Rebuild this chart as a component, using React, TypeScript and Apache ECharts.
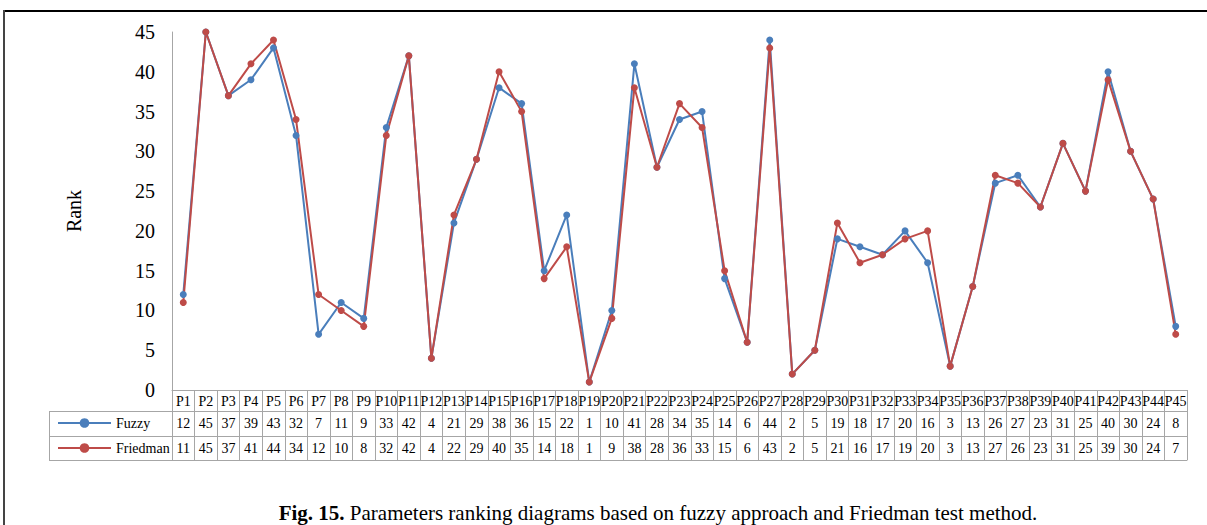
import React, { useEffect, useRef } from "react";
import * as echarts from "echarts";

const categories = Array.from({ length: 45 }, (_, i) => `P${i + 1}`);
const fuzzy = [12, 45, 37, 39, 43, 32, 7, 11, 9, 33, 42, 4, 21, 29, 38, 36, 15, 22, 1, 10, 41, 28, 34, 35, 14, 6, 44, 2, 5, 19, 18, 17, 20, 16, 3, 13, 26, 27, 23, 31, 25, 40, 30, 24, 8];
const friedman = [11, 45, 37, 41, 44, 34, 12, 10, 8, 32, 42, 4, 22, 29, 40, 35, 14, 18, 1, 9, 38, 28, 36, 33, 15, 6, 43, 2, 5, 21, 16, 17, 19, 20, 3, 13, 27, 26, 23, 31, 25, 39, 30, 24, 7];
const yTicks = { min: 0, max: 45, interval: 5 };

const FONT = "'Liberation Serif', 'Times New Roman', serif";
const GRID = "#A6A6A6";
const BLUE = "#4A7EBB";
const RED = "#BE4B48";

export default function App() {
  const ref = useRef<HTMLDivElement>(null);
  useEffect(() => {
    const chart = echarts.init(ref.current!, null, { renderer: "svg" });
    chart.setOption({
      animation: false,
      grid: { left: 172, right: 20, top: 32, bottom: 135 },
      legend: [
        {
          data: ["Fuzzy"], left: 57, top: 416, itemWidth: 53, itemHeight: 12, padding: 0, itemGap: 0,
          textStyle: { fontFamily: FONT, fontSize: 14, color: "#000", padding: [0, 0, 0, 0] },
        },
        {
          data: ["Friedman"], left: 57, top: 441, itemWidth: 53, itemHeight: 12, padding: 0, itemGap: 0,
          textStyle: { fontFamily: FONT, fontSize: 14, color: "#000" },
        },
      ],
      xAxis: [
        {
          type: "category", data: categories, boundaryGap: true, position: "bottom",
          axisLine: { lineStyle: { color: GRID, width: 1 } },
          axisTick: { show: true, interval: 0, length: 70, lineStyle: { color: GRID } },
          axisLabel: { interval: 0, margin: 4, fontFamily: FONT, fontSize: 14, color: "#000" },
        },
        {
          type: "category", data: fuzzy.map(String), boundaryGap: true, position: "bottom", offset: 21,
          axisLine: { lineStyle: { color: GRID, width: 1 } },
          axisTick: { show: false },
          axisLabel: { interval: 0, margin: 5, fontFamily: FONT, fontSize: 14, color: "#000" },
        },
        {
          type: "category", data: friedman.map(String), boundaryGap: true, position: "bottom", offset: 46,
          axisLine: { lineStyle: { color: GRID, width: 1 } },
          axisTick: { show: false },
          axisLabel: { interval: 0, margin: 5, fontFamily: FONT, fontSize: 14, color: "#000" },
        },
        {
          type: "category", data: categories, boundaryGap: true, position: "bottom", offset: 70,
          axisLine: { lineStyle: { color: GRID, width: 1 } },
          axisTick: { show: false },
          axisLabel: { show: false },
        },
      ],
      yAxis: {
        type: "value", min: yTicks.min, max: yTicks.max, interval: yTicks.interval,
        name: "Rank", nameLocation: "middle", nameRotate: 90, nameGap: 88,
        nameTextStyle: { fontFamily: FONT, fontSize: 20, color: "#000" },
        axisLine: { show: true, lineStyle: { color: GRID, width: 1 } },
        axisTick: { show: false },
        splitLine: { show: false },
        axisLabel: { margin: 17, fontFamily: FONT, fontSize: 20, color: "#000" },
      },
      series: [
        {
          name: "Fuzzy", type: "line", data: fuzzy, xAxisIndex: 0,
          symbol: "circle", symbolSize: 7,
          lineStyle: { color: BLUE, width: 2 }, itemStyle: { color: BLUE },
        },
        {
          name: "Friedman", type: "line", data: friedman, xAxisIndex: 0,
          symbol: "circle", symbolSize: 7,
          lineStyle: { color: RED, width: 2 }, itemStyle: { color: RED },
        },
      ],
      graphic: [
        { type: "line", shape: { x1: 4, y1: 11, x2: 1207, y2: 11 }, style: { stroke: "#000", lineWidth: 2 } },
        { type: "line", shape: { x1: 4, y1: 10, x2: 4, y2: 525 }, style: { stroke: "#444", lineWidth: 2 } },
        { type: "line", shape: { x1: 49.5, y1: 411, x2: 49.5, y2: 460 }, style: { stroke: GRID, lineWidth: 1 } },
        { type: "line", shape: { x1: 49, y1: 411.5, x2: 172, y2: 411.5 }, style: { stroke: GRID, lineWidth: 1 } },
        { type: "line", shape: { x1: 49, y1: 436.5, x2: 172, y2: 436.5 }, style: { stroke: GRID, lineWidth: 1 } },
        { type: "line", shape: { x1: 49, y1: 460.5, x2: 172, y2: 460.5 }, style: { stroke: GRID, lineWidth: 1 } },
        {
          type: "text", x: 658, y: 513,
          style: {
            text: "{b|Fig. 15.} Parameters ranking diagrams based on fuzzy approach and Friedman test method.",
            rich: {
              b: { fontFamily: FONT, fontSize: 21, fontWeight: "bold", fill: "#000" },
            },
            fontFamily: FONT, fontSize: 21, fill: "#000",
            align: "center", verticalAlign: "middle",
          },
        },
      ],
    });
    return () => chart.dispose();
  }, []);
  return <div ref={ref} style={{ width: 1207, height: 525, position: "absolute", left: 0, top: 0 }} />;
}
